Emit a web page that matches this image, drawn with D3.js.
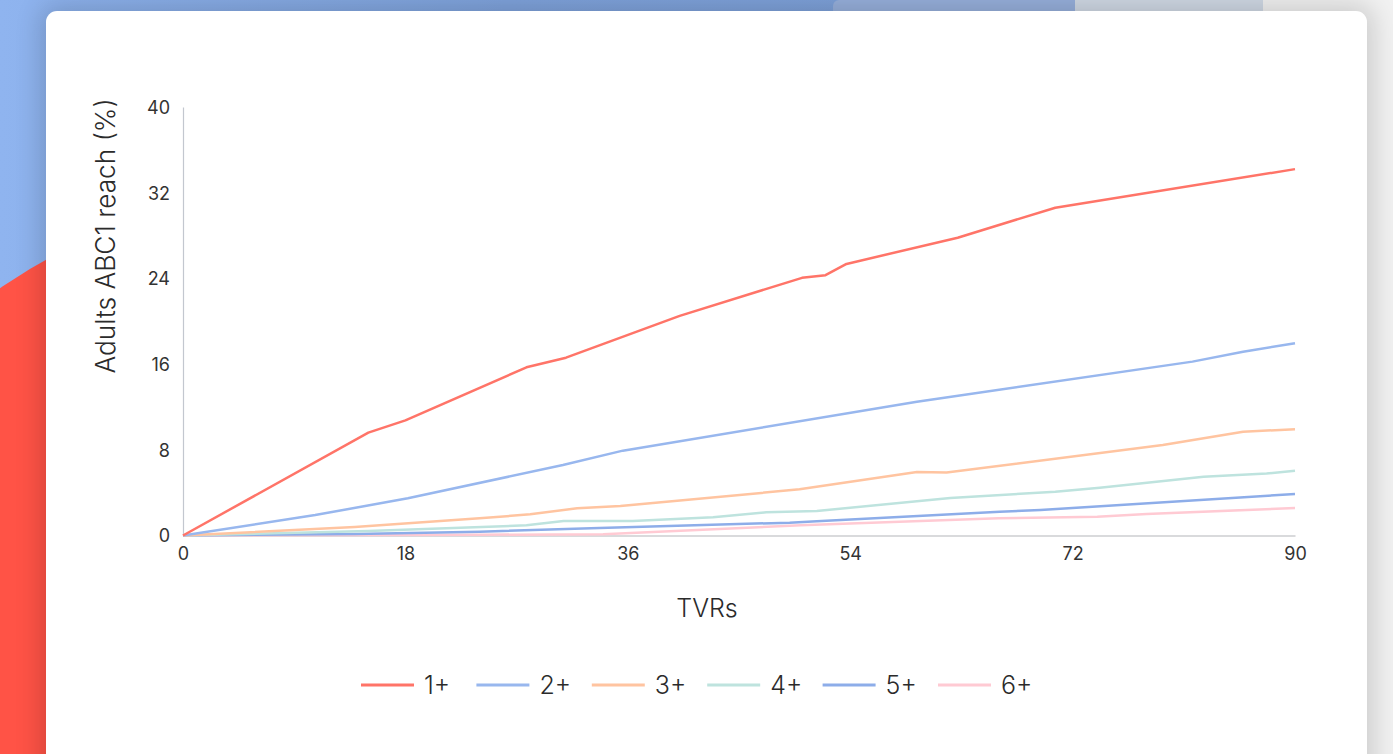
<!DOCTYPE html>
<html>
<head>
<meta charset="utf-8">
<script src="https://cdn.jsdelivr.net/npm/d3@7/dist/d3.min.js"></script>
<style>
  html, body { margin: 0; padding: 0; }
  body { width: 1393px; height: 754px; overflow: hidden; position: relative; background: #f1f1f1; font-family: Inter, "Noto Sans", sans-serif; }
  .bg { position: absolute; }
  #chart { position: absolute; left: 0; top: 0; }
</style>
</head>
<body>
<div class="bg" style="left:0;top:0;width:1262px;height:300px;background:linear-gradient(90deg,#8fb4ef 0%,#7fa3dc 40%,#7c9fd6 100%);"></div>
<div class="bg" style="left:833px;top:0;width:242px;height:30px;background:#97b0dc;border-top-left-radius:6px;"></div>
<div class="bg" style="left:1075px;top:0;width:188px;height:30px;background:#d0d9e5;"></div>
<div class="bg" style="left:-270px;top:180px;width:1240px;height:1240px;border-radius:50%;background:#ff5346;"></div>
<div class="bg" style="left:46px;top:11px;width:1321px;height:790px;background:#fff;border-radius:11px;box-shadow:0 0 26px 6px rgba(0,0,0,0.16);"></div>
<svg id="chart" width="1393" height="754"></svg>
<script>
// Cumulative reach (%) by TVRs for each frequency band
const series = ["1+", "2+", "3+", "4+", "5+", "6+"];
const colors = ["#ff7468", "#98b7ee", "#ffc4a0", "#bee3de", "#8dade9", "#ffcad3"];
const xTicks = [0, 18, 36, 54, 72, 90];
const yTicks = [0, 8, 16, 24, 32, 40];

const tvr1 = [0, 15, 18, 27.8, 31, 40.2, 50.1, 52, 53.7, 62.7, 70.6, 90];
const reach1 = [0, 9.6, 10.75, 15.7, 16.6, 20.5, 24.05, 24.3, 25.35, 27.8, 30.6, 34.2];

const tvr2 = [0, 10.7, 18.2, 30.75, 35.6, 59.4, 81.7, 85.8, 90];
const reach2 = [0, 1.91, 3.47, 6.58, 7.92, 12.49, 16.23, 17.16, 17.95];

const tvr3 = [0, 13.9, 24, 28.1, 31.9, 35.4, 49.9, 59.4, 61.8, 79.3, 85.8, 90];
const reach3 = [0, 0.79, 1.6, 1.98, 2.54, 2.75, 4.31, 5.93, 5.88, 8.45, 9.69, 9.92];

const tvr4 = [0, 15, 27.8, 30.8, 36.4, 42.9, 47.2, 51.3, 62.1, 70.6, 74.2, 82.6, 87.7, 90];
const reach4 = [0, 0.42, 0.95, 1.35, 1.35, 1.7, 2.17, 2.29, 3.5, 4.09, 4.46, 5.49, 5.79, 6.05];

const tvr5 = [0, 14, 24, 33.7, 49.1, 51.3, 66.1, 69.4, 90];
const reach5 = [0, 0.15, 0.35, 0.7, 1.2, 1.33, 2.22, 2.38, 3.87];

const tvr6 = [0, 24, 34, 50, 66, 74, 78, 90];
const reach6 = [0, 0.07, 0.12, 0.95, 1.6, 1.76, 2.0, 2.57];

const tvrs = [tvr1, tvr2, tvr3, tvr4, tvr5, tvr6];
const reaches = [reach1, reach2, reach3, reach4, reach5, reach6];

const svg = d3.select("#chart");
const x = d3.scaleLinear().domain([0, 90]).range([183, 1295]);
const y = d3.scaleLinear().domain([0, 40]).range([535.5, 107]);
const font = "Inter, sans-serif";

// Axes
const yAxis = svg.append("g").attr("transform", "translate(183,0)")
  .call(d3.axisLeft(y).tickValues(yTicks).tickSize(0).tickPadding(13));
yAxis.select(".domain").attr("stroke", "#c3c7cf").attr("stroke-width", 1.2);
yAxis.selectAll("text").attr("font-size", 18).attr("fill", "#333").attr("font-family", font).attr("dy", "0.36em");

const xAxis = svg.append("g").attr("transform", "translate(0,535.5)")
  .call(d3.axisBottom(x).tickValues(xTicks).tickSize(0).tickPadding(12));
xAxis.select(".domain").attr("stroke", "#b3b5b9").attr("stroke-width", 1.2);
xAxis.selectAll("text").attr("font-size", 18).attr("fill", "#333").attr("font-family", font);

svg.append("text").attr("x", 707).attr("y", 617).attr("text-anchor", "middle")
  .attr("font-size", 25).attr("font-weight", 300).attr("fill", "#2b2b2b").attr("font-family", font).text("TVRs");
svg.append("text").attr("transform", "translate(115,236) rotate(-90)").attr("text-anchor", "middle")
  .attr("font-size", 26.3).attr("font-weight", 300).attr("fill", "#2b2b2b").attr("font-family", font).text("Adults ABC1 reach (%)");

// Lines (drawn back to front so 1+ sits on top)
const line = d3.line().x(d => x(d[0])).y(d => y(d[1]));
for (let i = series.length - 1; i >= 0; i--) {
  const pts = tvrs[i].map((t, j) => [t, reaches[i][j]]);
  svg.append("path").datum(pts).attr("d", line).attr("fill", "none")
    .attr("stroke", colors[i]).attr("stroke-width", 2.5).attr("stroke-linejoin", "round");
}

// Legend
const legend = svg.append("g");
series.forEach((s, i) => {
  const lx = 361 + i * 115.4;
  legend.append("line").attr("x1", lx).attr("x2", lx + 53).attr("y1", 685).attr("y2", 685)
    .attr("stroke", colors[i]).attr("stroke-width", 3);
  legend.append("text").attr("x", lx + 63).attr("y", 685).attr("dy", "0.36em")
    .attr("font-size", 25).attr("font-weight", 300).attr("fill", "#2b2b2b").attr("font-family", font).text(s);
});
</script>
</body>
</html>
